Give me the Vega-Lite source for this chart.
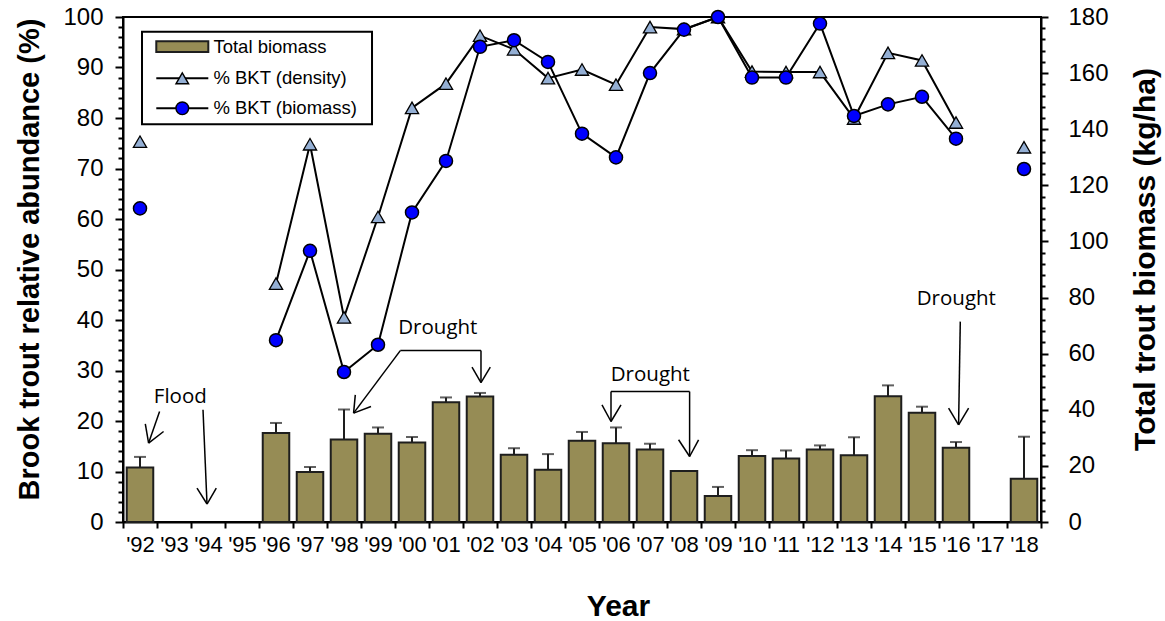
{
  "$schema": "https://vega.github.io/schema/vega-lite/v6.json",
  "autosize": {"type": "none"},
  "padding": {"left": 123, "top": 17, "right": 124, "bottom": 99},
  "width": 918,
  "height": 505,
  "background": "white",
  "config": {
    "view": {"stroke": "black", "strokeWidth": 2},
    "axis": {"labelFont": "Liberation Sans", "labelColor": "black", "titleFont": "Liberation Sans", "titleColor": "black", "domainColor": "black", "domainWidth": 2, "tickColor": "black", "tickWidth": 2, "grid": false}
  },
  "datasets": {
    "main": [
      {"year": "'92", "bio": 19.4, "upper": 23.2, "dens": 75.3, "pbio": 62.1},
      {"year": "'96", "bio": 31.7, "upper": 35.3, "dens": 47.2, "pbio": 36.0},
      {"year": "'97", "bio": 17.8, "upper": 19.6, "dens": 74.8, "pbio": 53.7},
      {"year": "'98", "bio": 29.4, "upper": 40.1, "dens": 40.5, "pbio": 29.7},
      {"year": "'99", "bio": 31.5, "upper": 33.7, "dens": 60.4, "pbio": 35.1},
      {"year": "'00", "bio": 28.3, "upper": 30.3, "dens": 82.0, "pbio": 61.3},
      {"year": "'01", "bio": 42.7, "upper": 44.4, "dens": 86.8, "pbio": 71.5},
      {"year": "'02", "bio": 44.7, "upper": 46.0, "dens": 96.3, "pbio": 94.1},
      {"year": "'03", "bio": 24.0, "upper": 26.3, "dens": 93.6, "pbio": 95.4},
      {"year": "'04", "bio": 18.6, "upper": 24.2, "dens": 87.9, "pbio": 91.1},
      {"year": "'05", "bio": 29.0, "upper": 32.1, "dens": 89.6, "pbio": 76.9},
      {"year": "'06", "bio": 28.1, "upper": 33.7, "dens": 86.6, "pbio": 72.2},
      {"year": "'07", "bio": 25.8, "upper": 27.9, "dens": 98.0, "pbio": 88.9},
      {"year": "'08", "bio": 18.2, "upper": null, "dens": 97.6, "pbio": 97.5},
      {"year": "'09", "bio": 9.3, "upper": 12.5, "dens": 100, "pbio": 100},
      {"year": "'10", "bio": 23.5, "upper": 25.6, "dens": 89.2, "pbio": 88.0},
      {"year": "'11", "bio": 22.6, "upper": 25.5, "dens": 89.1, "pbio": 88.0},
      {"year": "'12", "bio": 25.8, "upper": 27.3, "dens": 89.1, "pbio": 98.7},
      {"year": "'13", "bio": 23.8, "upper": 30.2, "dens": 79.9, "pbio": 80.4},
      {"year": "'14", "bio": 44.8, "upper": 48.7, "dens": 92.9, "pbio": 82.7},
      {"year": "'15", "bio": 38.9, "upper": 41.1, "dens": 91.4, "pbio": 84.2},
      {"year": "'16", "bio": 26.5, "upper": 28.5, "dens": 79.1, "pbio": 75.9},
      {"year": "'18", "bio": 15.4, "upper": 30.4, "dens": 74.2, "pbio": 69.9}
    ],
    "segments": [
      {"x": 1.076, "y": 21.87, "x2": 0.753, "y2": 15.63},
      {"x": 0.753, "y": 15.63, "x2": 0.656, "y2": 19.44},
      {"x": 0.753, "y": 15.63, "x2": 1.194, "y2": 17.92},
      {"x": 2.353, "y": 22.21, "x2": 2.471, "y2": 3.56},
      {"x": 2.471, "y": 3.56, "x2": 2.176, "y2": 6.72},
      {"x": 2.471, "y": 3.56, "x2": 2.744, "y2": 6.72},
      {"x": 8.156, "y": 33.94, "x2": 10.529, "y2": 33.94},
      {"x": 10.529, "y": 33.94, "x2": 10.529, "y2": 27.61},
      {"x": 10.529, "y": 27.61, "x2": 10.265, "y2": 30.66},
      {"x": 10.529, "y": 27.61, "x2": 10.803, "y2": 30.66},
      {"x": 8.156, "y": 33.94, "x2": 6.782, "y2": 21.56},
      {"x": 6.782, "y": 21.56, "x2": 6.832, "y2": 25.18},
      {"x": 6.782, "y": 21.56, "x2": 7.294, "y2": 22.86},
      {"x": 14.353, "y": 25.83, "x2": 16.665, "y2": 25.83},
      {"x": 14.353, "y": 25.83, "x2": 14.353, "y2": 19.9},
      {"x": 14.353, "y": 19.9, "x2": 14.088, "y2": 23.2},
      {"x": 14.353, "y": 19.9, "x2": 14.647, "y2": 23.2},
      {"x": 16.665, "y": 25.83, "x2": 16.665, "y2": 12.97},
      {"x": 16.665, "y": 12.97, "x2": 16.341, "y2": 16.28},
      {"x": 16.665, "y": 12.97, "x2": 16.929, "y2": 16.28},
      {"x": 24.626, "y": 39.68, "x2": 24.576, "y2": 19.24},
      {"x": 24.576, "y": 19.24, "x2": 24.282, "y2": 22.55},
      {"x": 24.576, "y": 19.24, "x2": 24.871, "y2": 22.55}
    ],
    "labels": [
      {"x": 1.685, "y": 24.7, "text": "Flood"},
      {"x": 9.259, "y": 38.4, "text": "Drought"},
      {"x": 15.509, "y": 29.1, "text": "Drought"},
      {"x": 24.509, "y": 44.2, "text": "Drought"}
    ],
    "legendBox": [
      {"x": 0.559, "x2": 7.324, "y": 97.09, "y2": 78.75}
    ],
    "legendSwatch": [
      {"x": 0.979, "x2": 2.509, "y": 95.19, "y2": 93.07}
    ],
    "legendLines": [
      {"series": "% BKT (density)", "x": 0.979, "x2": 2.509, "y": 87.86},
      {"series": "% BKT (biomass)", "x": 0.979, "x2": 2.509, "y": 81.92}
    ],
    "legendMarks": [
      {"series": "% BKT (density)", "x": 1.744, "y": 87.86},
      {"series": "% BKT (biomass)", "x": 1.744, "y": 81.92}
    ],
    "legendText": [
      {"series": "Total biomass", "x": 2.66, "y": 94.12},
      {"series": "% BKT (density)", "x": 2.66, "y": 87.86},
      {"series": "% BKT (biomass)", "x": 2.66, "y": 81.92}
    ]
  },
  "layer": [
    {
      "data": {"name": "main"},
      "encoding": {
        "x": {
          "field": "year", "type": "ordinal",
          "scale": {"domain": ["'92","'93","'94","'95","'96","'97","'98","'99","'00","'01","'02","'03","'04","'05","'06","'07","'08","'09","'10","'11","'12","'13","'14","'15","'16","'17","'18"], "paddingInner": 0, "paddingOuter": 0},
          "axis": {"tickBand": "extent", "labelAngle": 0, "labelFontSize": 22, "labelPadding": 6, "tickSize": 6, "title": "Year", "titleFontSize": 30, "titleFontWeight": "bold", "titleX": 495, "titleY": 84, "titleBaseline": "middle", "titleAlign": "center"}
        }
      },
      "layer": [
        {
          "mark": {"type": "bar", "fill": "#968C55", "stroke": "#1e1e1e", "strokeWidth": 2, "width": {"band": 0.78}},
          "encoding": {
            "y": {
              "field": "bio", "type": "quantitative",
              "scale": {"domain": [0, 180], "nice": false},
              "axis": {
                "orient": "right",
                "values": [0,4,8,12,16,20,24,28,32,36,40,44,48,52,56,60,64,68,72,76,80,84,88,92,96,100,104,108,112,116,120,124,128,132,136,140,144,148,152,156,160,164,168,172,176,180],
                "tickCount": 200,
                "format": "d",
                "labelExpr": "datum.value % 20 === 0 ? datum.label : ''",
                "labelOverlap": false,
                "labelFontSize": 24,
                "labelPadding": 20,
                "tickSize": {"condition": {"test": "datum.value % 20 === 0", "value": 7}, "value": 4},
                "title": "Total trout biomass (kg/ha)",
                "titleFontSize": 30,
                "titleFontWeight": "bold",
                "titleAngle": 270,
                "titleX": 104,
                "titleY": 242,
                "titleAlign": "center",
                "titleBaseline": "middle"
              }
            }
          }
        },
        {
          "transform": [{"filter": "isValid(datum.upper)"}],
          "mark": {"type": "rule", "stroke": "#1e1e1e", "strokeWidth": 2},
          "encoding": {"y": {"field": "upper", "type": "quantitative"}, "y2": {"field": "bio"}}
        },
        {
          "transform": [{"filter": "isValid(datum.upper)"}],
          "mark": {"type": "tick", "color": "#1e1e1e", "size": 12, "thickness": 2},
          "encoding": {"y": {"field": "upper", "type": "quantitative"}}
        }
      ]
    },
    {
      "data": {"name": "main"},
      "encoding": {
        "x": {
          "field": "year", "type": "ordinal",
          "scale": {"domain": ["'92","'93","'94","'95","'96","'97","'98","'99","'00","'01","'02","'03","'04","'05","'06","'07","'08","'09","'10","'11","'12","'13","'14","'15","'16","'17","'18"], "paddingInner": 0, "paddingOuter": 0},
          "axis": null
        }
      },
      "layer": [
        {
          "transform": [{"filter": "datum.year != \"'92\" && datum.year != \"'18\""}],
          "mark": {"type": "line", "stroke": "black", "strokeWidth": 2},
          "encoding": {
            "y": {
              "field": "dens", "type": "quantitative",
              "scale": {"domain": [0, 100], "nice": false},
              "axis": {
                "orient": "left",
                "values": [0,2,4,6,8,10,12,14,16,18,20,22,24,26,28,30,32,34,36,38,40,42,44,46,48,50,52,54,56,58,60,62,64,66,68,70,72,74,76,78,80,82,84,86,88,90,92,94,96,98,100],
                "tickCount": 200,
                "format": "d",
                "labelExpr": "datum.value % 10 === 0 ? datum.label : ''",
                "labelOverlap": false,
                "labelFontSize": 24,
                "labelPadding": 12,
                "tickSize": {"condition": {"test": "datum.value % 10 === 0", "value": 8}, "value": 5},
                "title": "Brook trout relative abundance (%)",
                "titleFontSize": 29,
                "titleFontWeight": "bold",
                "titleAngle": 270,
                "titleX": -94,
                "titleY": 242,
                "titleAlign": "center",
                "titleBaseline": "middle"
              }
            }
          }
        },
        {
          "transform": [{"filter": "datum.year != \"'92\" && datum.year != \"'18\""}],
          "mark": {"type": "line", "stroke": "black", "strokeWidth": 2},
          "encoding": {"y": {"field": "pbio", "type": "quantitative"}}
        },
        {
          "mark": {"type": "point", "shape": "triangle-up", "filled": true, "fill": "#94AFD4", "stroke": "black", "strokeWidth": 1.3, "size": 175, "opacity": 1},
          "encoding": {"y": {"field": "dens", "type": "quantitative"}}
        },
        {
          "mark": {"type": "point", "shape": "circle", "filled": true, "fill": "#0000FF", "stroke": "black", "strokeWidth": 1.5, "size": 170, "opacity": 1},
          "encoding": {"y": {"field": "pbio", "type": "quantitative"}}
        }
      ]
    },
    {
      "encoding": {
        "x": {"field": "x", "type": "quantitative", "scale": {"domain": [0, 27], "nice": false, "zero": false}, "axis": null},
        "y": {"field": "y", "type": "quantitative", "scale": {"domain": [0, 100], "nice": false}, "axis": null}
      },
      "layer": [
        {
          "data": {"name": "segments"},
          "mark": {"type": "rule", "stroke": "black", "strokeWidth": 1.5},
          "encoding": {"x2": {"field": "x2"}, "y2": {"field": "y2"}}
        },
        {
          "data": {"name": "labels"},
          "mark": {"type": "text", "font": "Open Sans", "fontSize": 20.5, "color": "black", "align": "center", "baseline": "middle"},
          "encoding": {"text": {"field": "text"}}
        },
        {
          "data": {"name": "legendBox"},
          "mark": {"type": "rect", "fill": "white", "stroke": "black", "strokeWidth": 2},
          "encoding": {"x2": {"field": "x2"}, "y2": {"field": "y2"}}
        },
        {
          "data": {"name": "legendSwatch"},
          "mark": {"type": "rect", "fill": "#968C55", "stroke": "#1e1e1e", "strokeWidth": 2},
          "encoding": {"x2": {"field": "x2"}, "y2": {"field": "y2"}}
        },
        {
          "data": {"name": "legendLines"},
          "mark": {"type": "rule", "stroke": "black", "strokeWidth": 2},
          "encoding": {"x2": {"field": "x2"}}
        },
        {
          "data": {"name": "legendMarks"},
          "mark": {"type": "point", "filled": true, "stroke": "black", "strokeWidth": 1.4, "size": 160, "opacity": 1},
          "encoding": {
            "shape": {"field": "series", "type": "nominal", "scale": {"domain": ["% BKT (density)", "% BKT (biomass)"], "range": ["triangle-up", "circle"]}, "legend": null},
            "fill": {"field": "series", "type": "nominal", "scale": {"domain": ["% BKT (density)", "% BKT (biomass)"], "range": ["#94AFD4", "#0000FF"]}, "legend": null}
          }
        },
        {
          "data": {"name": "legendText"},
          "mark": {"type": "text", "font": "Liberation Sans", "fontSize": 18.5, "color": "black", "align": "left", "baseline": "middle"},
          "encoding": {"text": {"field": "series"}}
        }
      ]
    }
  ],
  "resolve": {"scale": {"x": "independent", "y": "independent"}}
}
